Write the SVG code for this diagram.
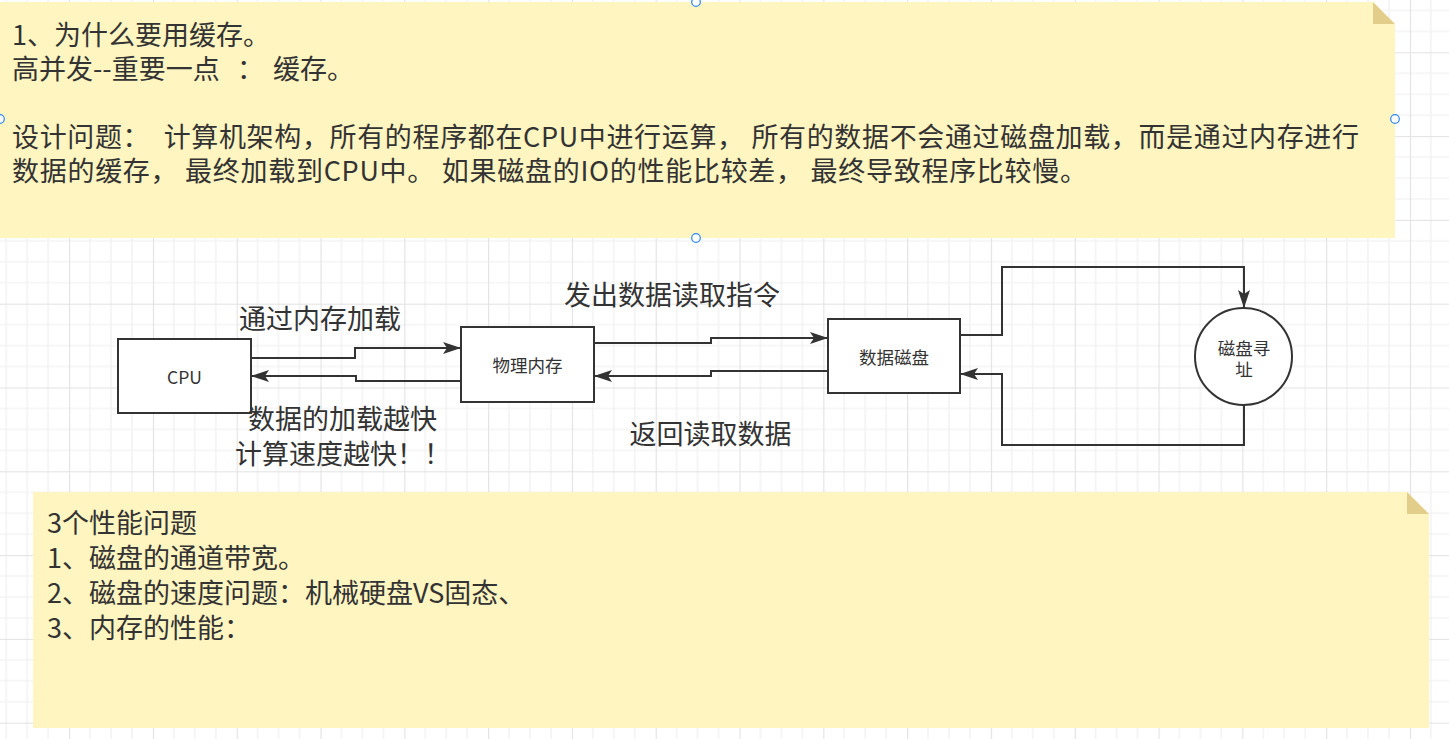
<svg xmlns="http://www.w3.org/2000/svg" width="1449" height="739" viewBox="0 0 1449 739">
<defs>
<pattern id="grid" patternUnits="userSpaceOnUse" x="69.1" y="52.3" width="83.8" height="83.8">
<rect width="83.8" height="83.8" fill="#ffffff"/>
<path d="M20.95 0V83.8M41.9 0V83.8M62.85 0V83.8M0 20.95H83.8M0 41.9H83.8M0 62.85H83.8" stroke="#f0f0f0" stroke-width="1.2" fill="none"/>
<path d="M0.5 0V83.8M0 0.5H83.8" stroke="#e2e2e2" stroke-width="1.2" fill="none"/>
</pattern>
<marker id="arr" markerUnits="userSpaceOnUse" markerWidth="20" markerHeight="14" refX="18" refY="6" orient="auto" viewBox="0 0 20 14">
<path d="M0 0L18 6L0 12L4 6Z" fill="#333"/>
</marker>
<style>
.note{fill:#fff5c0}
.fold{fill:#e3cd8b}
.box{fill:#fff;stroke:#333;stroke-width:2}
.t{font-family:"Noto Sans CJK SC","Noto Sans",sans-serif;fill:#333}
.big{font-size:27px}
.small{font-size:17.5px}
.edge{fill:none;stroke:#333;stroke-width:2;marker-end:url(#arr)}
.handle{fill:#fff;stroke:#2f86f2;stroke-width:1.2}
</style>
</defs>
<rect width="1449" height="739" fill="url(#grid)"/>

<g id="note-top">
<path class="note" d="M-2 2H1373L1395 24V238H-2Z"/>
<path class="fold" d="M1373 2V24H1395Z"/>
<text class="t big" xml:space="preserve"><tspan x="12" y="45">1、为什么要用缓存。</tspan><tspan x="12" y="79">高并发--重要一点</tspan><tspan x="237" y="79">：</tspan><tspan x="273" y="79">缓存。</tspan><tspan x="12" y="147" textLength="1347" lengthAdjust="spacing">设计问题：  计算机架构，所有的程序都在CPU中进行运算， 所有的数据不会通过磁盘加载，而是通过内存进行</tspan><tspan x="12" y="181" textLength="1075" lengthAdjust="spacing">数据的缓存， 最终加载到CPU中。 如果磁盘的IO的性能比较差， 最终导致程序比较慢。</tspan></text>
</g>
<g id="selection-handles">
<circle class="handle" cx="696" cy="2" r="4.3"/>
<circle class="handle" cx="1395" cy="119" r="4.3"/>
<circle class="handle" cx="696" cy="238" r="4.3"/>
<circle class="handle" cx="0" cy="119" r="4.3"/>
</g>

<g id="connectors">
<path class="edge" d="M251 358H355V348H461"/>
<path class="edge" d="M461 381H356V376H251"/>
<path class="edge" d="M594 343H711V338H828"/>
<path class="edge" d="M828 371H711V376H594"/>
<path class="edge" d="M960 335H1002V267H1244V308"/>
<path class="edge" d="M1244 405V445H1002V374H960"/>
</g>

<g id="node-cpu">
<rect class="box" x="118" y="339" width="133" height="74"/>
<text class="t small" x="184.5" y="376" text-anchor="middle" dominant-baseline="central">CPU</text>
</g>
<g id="node-memory">
<rect class="box" x="461" y="327" width="133" height="75"/>
<text class="t small" x="527.5" y="364.5" text-anchor="middle" dominant-baseline="central">物理内存</text>
</g>
<g id="node-disk">
<rect class="box" x="828" y="319" width="132" height="74"/>
<text class="t small" x="894" y="356" text-anchor="middle" dominant-baseline="central">数据磁盘</text>
</g>
<g id="node-seek">
<circle class="box" cx="1243.5" cy="356.5" r="48.5"/>
<text class="t small" text-anchor="middle" dominant-baseline="central"><tspan x="1244" y="347">磁盘寻</tspan><tspan x="1244" y="368">址</tspan></text>
</g>

<g id="labels">
<text class="t big" x="320" y="317" text-anchor="middle" dominant-baseline="central">通过内存加载</text>
<text class="t big" x="672" y="293" text-anchor="middle" dominant-baseline="central">发出数据读取指令</text>
<text class="t big" x="710.5" y="432" text-anchor="middle" dominant-baseline="central">返回读取数据</text>
<text class="t big" dominant-baseline="central"><tspan x="248" y="416.5">数据的加载越快</tspan><tspan x="235" y="452">计算速度越快！！</tspan></text>
</g>

<g id="note-bottom">
<path class="note" d="M33 492H1407L1429 514V728H33Z"/>
<path class="fold" d="M1407 492V514H1429Z"/>
<text class="t big"><tspan x="47" y="533">3个性能问题</tspan><tspan x="47" y="568">1、磁盘的通道带宽。</tspan><tspan x="47" y="603">2、磁盘的速度问题：机械硬盘VS固态、</tspan><tspan x="47" y="638">3、内存的性能：</tspan></text>
</g>
</svg>
